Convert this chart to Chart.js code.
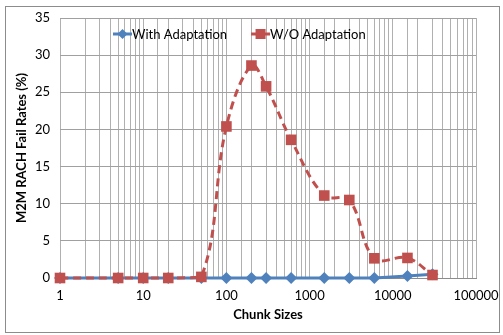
<!DOCTYPE html>
<html>
<head>
  <script src="https://cdn.jsdelivr.net/npm/chart.js"></script>
  <style>
    body { margin: 0; background: #fff; }
    #wrap { width: 503px; height: 335px; }
  </style>
</head>
<body>
  <div id="wrap"><canvas id="myChart" width="503" height="335"></canvas></div>

  <script>
    // chunk sizes (x) and fail rates (%)
    var chunkSizes = [1, 5, 10, 20, 50, 100, 200, 300, 600, 1500, 3000, 6000, 15000, 30000];
    var withAdaptation = [0, 0, 0, 0, 0, 0, 0, 0, 0, 0, 0, 0, 0.27, 0.5];
    var withoutAdaptation = [0, 0, 0, 0, 0.15, 20.4, 28.6, 25.8, 18.6, 11.1, 10.5, 2.65, 2.7, 0.4];
    var xTickLabels = [1, 10, 100, 1000, 10000, 100000];

    var BLUE = '#4F81BD';
    var RED = '#C0504D';
    var FONT = 'Lato, "Open Sans", sans-serif';

    function toPoints(xs, ys) {
      return xs.map(function (x, i) { return { x: x, y: ys[i] }; });
    }

    // outer frame + legend drawn inside the plot (like the Excel one)
    var framePlugin = {
      id: 'frame',
      beforeDraw: function (chart) {
        var c = chart.ctx;
        c.save();
        c.fillStyle = '#fff';
        c.fillRect(0, 0, chart.width, chart.height);
        c.strokeStyle = '#8c8c8c';
        c.lineWidth = 1;
        c.strokeRect(5.5, 6.5, 494, 326);
        c.restore();
      },
      afterDraw: function (chart) {
        var c = chart.ctx;
        var y = 34;
        var x = chart.chartArea.left + 53;
        c.save();
        c.font = '13px ' + FONT;
        c.textBaseline = 'middle';
        chart.data.datasets.forEach(function (ds) {
          c.strokeStyle = ds.borderColor;
          c.fillStyle = ds.borderColor;
          c.lineWidth = 3;
          c.setLineDash(ds.borderDash || []);
          c.beginPath(); c.moveTo(x, y); c.lineTo(x + 19, y); c.stroke();
          c.setLineDash([]);
          if (ds.pointStyle === 'rectRot') {
            c.beginPath(); c.moveTo(x + 9.5, y - 5); c.lineTo(x + 14.5, y); c.lineTo(x + 9.5, y + 5); c.lineTo(x + 4.5, y); c.closePath(); c.fill();
          } else {
            c.fillRect(x + 4.5, y - 5, 10, 10);
          }
          c.fillStyle = '#000';
          c.fillText(ds.label, x + 19, y + 1);
          x += 19 + c.measureText(ds.label).width + 24;
        });
        c.restore();
      }
    };

    var ctx = document.getElementById('myChart').getContext('2d');
    var myChart = new Chart(ctx, {
      type: 'line',
      data: {
        datasets: [{
          label: 'With Adaptation',
          data: toPoints(chunkSizes, withAdaptation),
          borderColor: BLUE,
          backgroundColor: BLUE,
          borderWidth: 3,
          pointStyle: 'rectRot',
          pointRadius: 6,
          pointBorderWidth: 0,
          tension: 0,
          fill: false,
          clip: false,
          order: 2
        }, {
          label: 'W/O Adaptation',
          data: toPoints(chunkSizes, withoutAdaptation),
          borderColor: RED,
          backgroundColor: RED,
          borderWidth: 3,
          borderDash: [8, 5],
          pointStyle: 'rect',
          pointRadius: 7.5,
          pointBorderWidth: 0,
          tension: 0.38,
          fill: false,
          clip: false,
          order: 1
        }]
      },
      options: {
        responsive: false,
        animation: false,
        layout: { padding: { left: 10, right: 0, top: 18, bottom: 8 } },
        plugins: {
          legend: { display: false },
          tooltip: { enabled: false }
        },
        scales: {
          x: {
            type: 'logarithmic',
            min: 1,
            max: 100000,
            grid: { color: '#b0b0b0', lineWidth: 1, drawTicks: false },
            border: { color: '#8c8c8c' },
            ticks: {
              autoSkip: false,
              maxRotation: 0,
              padding: 10,
              color: '#000',
              font: { family: FONT, size: 13 },
              callback: function (v) {
                return xTickLabels.indexOf(v) >= 0 ? String(v) : '';
              }
            },
            title: { display: true, text: 'Chunk Sizes', color: '#000', font: { family: FONT, size: 13, weight: 'bold' }, padding: { top: 2 } },
            afterFit: function (s) { s.height = 49; s.paddingRight = 27; s.paddingLeft = 0; }
          },
          y: {
            min: 0,
            max: 35,
            grid: { color: '#a0a0a0', lineWidth: 1, drawTicks: false },
            border: { display: false },
            ticks: {
              stepSize: 5,
              padding: 10,
              color: '#000',
              font: { family: FONT, size: 13 }
            },
            title: { display: true, text: 'M2M RACH Fail Rates (%)', color: '#000', font: { family: FONT, size: 13, weight: 'bold' } },
            afterFit: function (s) { s.width = 50; }
          }
        }
      },
      plugins: [framePlugin]
    });
  </script>
</body>
</html>
